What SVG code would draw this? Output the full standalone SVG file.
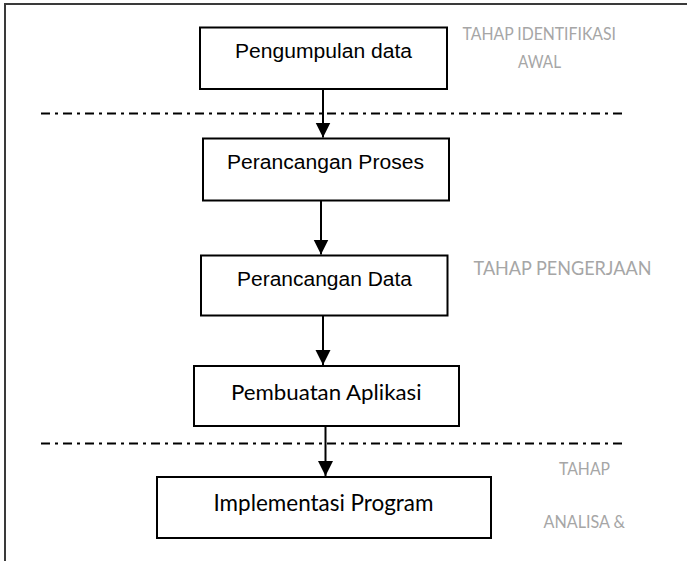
<svg xmlns="http://www.w3.org/2000/svg" width="687" height="561" viewBox="0 0 687 561">
  <style>
    .box { fill: #ffffff; stroke: #000000; stroke-width: 2; }
    .arial { font-family: "Liberation Sans", Arial, sans-serif; font-size: 20px; fill: #000000; }
    .cal { font-family: Lato, "Open Sans", sans-serif; fill: #000000; }
    .note { font-family: Lato, "Open Sans", sans-serif; fill: #a6a6a6; }
    .sep { stroke: #000000; stroke-width: 2; stroke-dasharray: 9 5 3 5; fill: none; }
    .frame { stroke: #3a3a3a; stroke-width: 2; fill: none; }
    .conn { stroke: #000000; stroke-width: 2; fill: none; marker-end: url(#arrow); }
  </style>
  <defs>
    <marker id="arrow" markerUnits="userSpaceOnUse" markerWidth="16" markerHeight="16" refX="15" refY="7.5" orient="auto" viewBox="0 0 16 16">
      <path d="M0,0 L15,7.5 L0,15 Z" fill="#000000"/>
    </marker>
  </defs>

  <rect x="0" y="0" width="687" height="561" fill="#ffffff"/>

  <g id="frame">
    <line class="frame" x1="4" y1="4" x2="687" y2="4"/>
    <line class="frame" x1="5" y1="4" x2="5" y2="561"/>
  </g>

  <g id="separators">
    <line class="sep" x1="41" y1="113.5" x2="627" y2="113.5"/>
    <line class="sep" x1="41" y1="443.5" x2="627" y2="443.5"/>
  </g>

  <g id="labels">
    <text class="note" x="462.5" y="39.5" font-size="17" textLength="153.5" lengthAdjust="spacingAndGlyphs">TAHAP IDENTIFIKASI</text>
    <text class="note" x="518" y="67.5" font-size="17" textLength="43" lengthAdjust="spacingAndGlyphs">AWAL</text>
    <text class="note" x="473.5" y="275" font-size="19" textLength="178" lengthAdjust="spacingAndGlyphs">TAHAP PENGERJAAN</text>
    <text class="note" x="559" y="475" font-size="17" textLength="51" lengthAdjust="spacingAndGlyphs">TAHAP</text>
    <text class="note" x="543.5" y="527.5" font-size="17" textLength="81.5" lengthAdjust="spacingAndGlyphs">ANALISA &amp;</text>
  </g>

  <g id="node-pengumpulan">
    <rect class="box" x="200" y="27.5" width="247" height="61.5"/>
    <text class="arial" x="235" y="57.5" textLength="177" lengthAdjust="spacingAndGlyphs">Pengumpulan data</text>
  </g>

  <g id="node-proses">
    <rect class="box" x="203" y="138.5" width="246" height="62"/>
    <text class="arial" x="227" y="168.5" textLength="197" lengthAdjust="spacingAndGlyphs">Perancangan Proses</text>
  </g>

  <g id="node-data">
    <rect class="box" x="201" y="255.5" width="246.5" height="60"/>
    <text class="arial" x="237" y="285.5" textLength="175" lengthAdjust="spacingAndGlyphs">Perancangan Data</text>
  </g>

  <g id="node-aplikasi">
    <rect class="box" x="194" y="366" width="265" height="60"/>
    <text class="cal" x="231" y="399.5" font-size="21" textLength="190.5" lengthAdjust="spacingAndGlyphs">Pembuatan Aplikasi</text>
  </g>

  <g id="node-implementasi">
    <rect class="box" x="157" y="477" width="334" height="61"/>
    <text class="cal" x="213.5" y="511" font-size="22.5" textLength="220" lengthAdjust="spacingAndGlyphs">Implementasi Program</text>
  </g>

  <g id="connectors">
    <line class="conn" x1="323" y1="89" x2="323" y2="137.5"/>
    <line class="conn" x1="321" y1="200.5" x2="321" y2="254.5"/>
    <line class="conn" x1="323" y1="315.5" x2="323" y2="365"/>
    <line class="conn" x1="325.5" y1="426" x2="325.5" y2="476"/>
  </g>
</svg>
